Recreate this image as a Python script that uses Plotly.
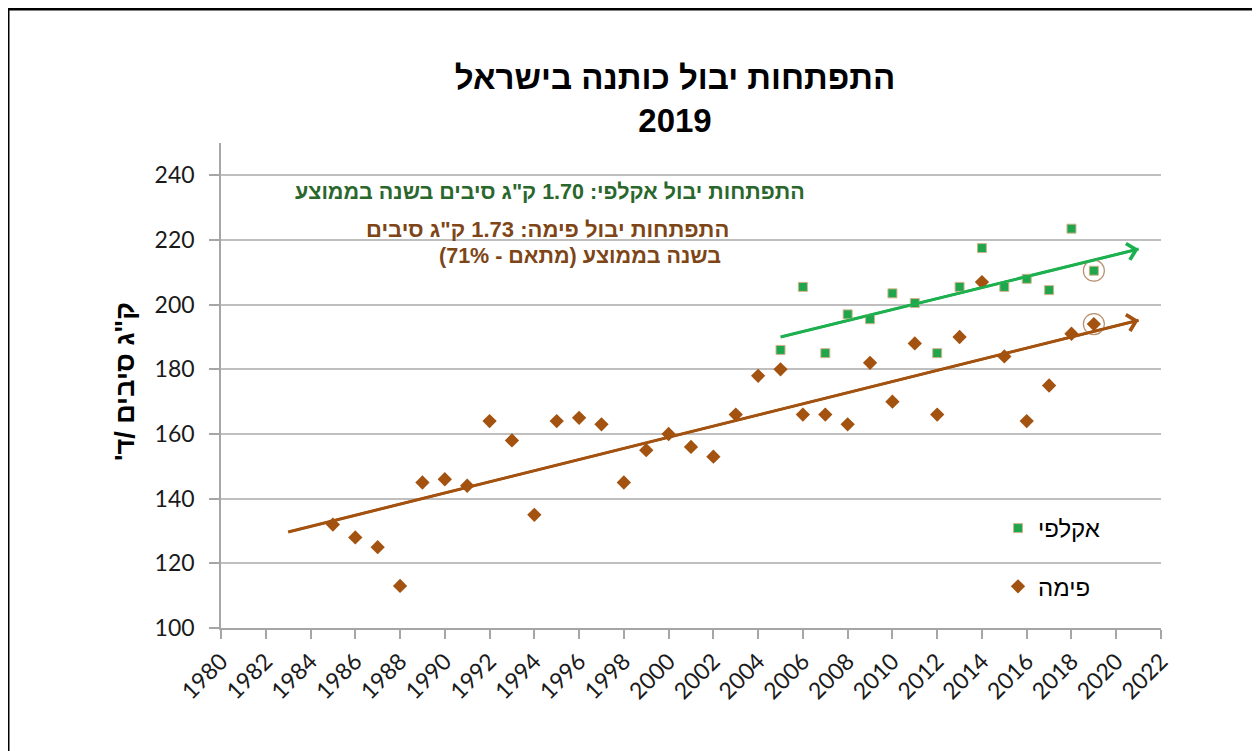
import plotly.graph_objects as go

# ---- data ----
pima_years = list(range(1985, 2020))
pima_values = [132, 128, 125, 113, 145, 146, 144, 164, 158, 135, 164, 165, 163, 145,
               155, 160, 156, 153, 166, 178, 180, 166, 166, 163, 182, 170, 188, 166,
               190, 207, 184, 164, 175, 191, 194]

acala_years = list(range(2005, 2020))
acala_values = [186, 205.5, 185, 197, 195.5, 203.5, 200.5, 185, 205.5, 217.5, 205.5,
                208, 204.5, 223.5, 210.5]

pima_trend_x = [1983, 2021]
pima_trend_y = [129.7, 195.2]
acala_trend_x = [2005, 2021]
acala_trend_y = [190, 217.2]

highlight_year = [2019, 2019]
highlight_values = [194, 210.5]

x_ticks = list(range(1980, 2023, 2))
y_ticks = list(range(100, 241, 20))

title_text = "התפתחות יבול כותנה בישראל<br>2019"
y_title = "\u200fק\"ג סיבים /ד'\u200f"
acala_name = "אקלפי"
pima_name = "פימה"
acala_note = "\u200fהתפתחות יבול אקלפי: 1.70 ק\"ג סיבים בשנה בממוצע\u200f"
pima_note_1 = "\u200fהתפתחות יבול פימה: 1.73 ק\"ג סיבים\u200f"
pima_note_2 = "\u200fבשנה בממוצע (מתאם - 71%)\u200f"

# ---- styles ----
BROWN = "#A3520F"
BROWN_TEXT = "#7E4517"
GREEN = "#1DB04F"
GREEN_MARK = "#1FA64C"
GREEN_TEXT = "#2A672C"
HEB = "Liberation Sans, Arial, DejaVu Sans, sans-serif"
NUM = "Lato, Liberation Sans, sans-serif"

# page has an 8px body margin; figure is placed at (8, 8)
OFF = 8
W, H = 1260 - OFF, 751 - OFF
PL, PR, PT, PB = 221, 1161, 143, 628   # plot area in page pixels
L, R, T, B = PL - OFF, 1260 - PR, PT - OFF, 751 - PB
pw, ph = PR - PL, PB - PT

def px(xpage):
    return (xpage - PL) / pw

def py(ypage):
    return (PB - ypage) / ph

fig = go.Figure()

# trend lines
fig.add_trace(go.Scatter(x=pima_trend_x, y=pima_trend_y, mode="lines",
                         line=dict(color=BROWN, width=3), showlegend=False, hoverinfo="skip"))
fig.add_trace(go.Scatter(x=acala_trend_x, y=acala_trend_y, mode="lines",
                         line=dict(color=GREEN, width=3), showlegend=False, hoverinfo="skip"))

# data
fig.add_trace(go.Scatter(x=acala_years, y=acala_values, mode="markers", name=acala_name,
                         legendgroup="a", legendrank=1,
                         marker=dict(symbol="square", size=9, color=GREEN_MARK,
                                     line=dict(color="#D2B48C", width=1))))
fig.add_trace(go.Scatter(x=pima_years, y=pima_values, mode="markers", name=pima_name,
                         legendgroup="p", legendrank=2,
                         marker=dict(symbol="diamond", size=11, color=BROWN,
                                     line=dict(width=0))))
fig.add_trace(go.Scatter(x=highlight_year, y=highlight_values, mode="markers",
                         marker=dict(symbol="circle-open", size=21, color="#B8906E",
                                     line=dict(width=1.2)),
                         showlegend=False, hoverinfo="skip"))

# arrow heads
for tx, ty, col in ((pima_trend_x, pima_trend_y, BROWN), (acala_trend_x, acala_trend_y, GREEN)):
    fig.add_annotation(x=tx[1], y=ty[1], ax=tx[0], ay=ty[0], xref="x", yref="y",
                       axref="x", ayref="y", text="", showarrow=True,
                       arrowhead=4, arrowsize=1.3, arrowwidth=2.5, arrowcolor=col)

# notes
fig.add_annotation(x=px(807), y=py(192), xref="paper", yref="paper", xanchor="right",
                   yanchor="middle", showarrow=False, text="<b>" + acala_note + "</b>",
                   font=dict(family=HEB, size=21.5, color=GREEN_TEXT))
fig.add_annotation(x=px(731), y=py(229), xref="paper", yref="paper", xanchor="right",
                   yanchor="middle", showarrow=False, text="<b>" + pima_note_1 + "</b>",
                   font=dict(family=HEB, size=22, color=BROWN_TEXT))
fig.add_annotation(x=px(723), y=py(256), xref="paper", yref="paper", xanchor="right",
                   yanchor="middle", showarrow=False, text="<b>" + pima_note_2 + "</b>",
                   font=dict(family=HEB, size=21.5, color=BROWN_TEXT))

# y title
fig.add_annotation(x=px(125), y=py(382), xref="paper", yref="paper", xanchor="center",
                   yanchor="middle", showarrow=False, textangle=-90,
                   text="<b>" + y_title + "</b>",
                   font=dict(family=HEB, size=27, color="#000000"))

# outer frame (figure edge = page x 8 / y 8)
fig.add_shape(type="rect", xref="paper", yref="paper",
              x0=px(OFF), x1=px(1290), y0=py(790), y1=py(OFF + 1),
              line=dict(color="#000000", width=3), layer="above")

fig.update_layout(
    width=W, height=H,
    margin=dict(l=L, r=R, t=T, b=B, autoexpand=False),
    paper_bgcolor="white", plot_bgcolor="white",
    title=dict(text="<b>" + title_text + "</b>", x=(675 - OFF) / W, xanchor="center",
               y=1 - (89 - OFF) / H, yanchor="top",
               font=dict(family=HEB, size=33, color="#000000")),
    showlegend=True,
    legend=dict(x=px(998), y=py(506), xanchor="left", yanchor="top",
                bgcolor="rgba(0,0,0,0)", tracegroupgap=24,
                font=dict(family=HEB, size=24, color="#000000"),
                itemwidth=30),
    xaxis=dict(range=[1980, 2022], tickmode="array", tickvals=x_ticks,
               ticktext=[str(v) for v in x_ticks], tickangle=-45,
               showgrid=False, zeroline=False, showline=True, linecolor="#A6A6A6",
               linewidth=1.5, ticks="outside", ticklen=9, tickcolor="#A6A6A6",
               tickwidth=1.5, tickfont=dict(family=NUM, size=23, color="#1a1a1a")),
    yaxis=dict(range=[100, 250], tickmode="array", tickvals=y_ticks,
               showgrid=True, gridcolor="#BFBFBF", gridwidth=1.5, zeroline=False,
               showline=True, linecolor="#A6A6A6", linewidth=1.5, ticks="outside",
               ticklen=10, tickcolor="#A6A6A6", tickwidth=1.5,
               ticklabelstandoff=10,
               tickfont=dict(family=NUM, size=23, color="#1a1a1a")),
)

fig.write_html("out.html")
